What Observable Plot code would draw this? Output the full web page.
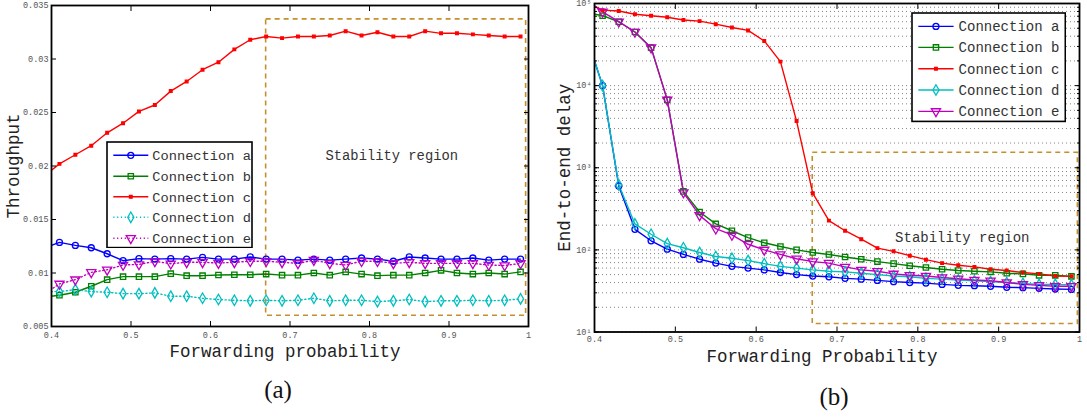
<!DOCTYPE html>
<html><head><meta charset="utf-8">
<script src="https://cdn.jsdelivr.net/npm/d3@7"></script>
<script src="https://cdn.jsdelivr.net/npm/@observablehq/plot@0.6"></script>
<style>
html,body{margin:0;padding:0;background:#fff;}
#wrap{position:relative;width:1087px;height:417px;overflow:hidden;background:#fff;}
#wrap > *{position:absolute;}
</style></head><body><div id="wrap"></div>
<script>
// ---- data ----
const prob = [0.39,0.41,0.43,0.45,0.47,0.49,0.51,0.53,0.55,0.57,0.59,0.61,0.63,0.65,0.67,0.69,0.71,0.73,0.75,0.77,0.79,0.81,0.83,0.85,0.87,0.89,0.91,0.93,0.95,0.97,0.99];

const thrA = [0.0123,0.01286,0.01258,0.01236,0.0118,0.01115,0.01134,0.0113,0.01134,0.0113,0.01146,0.0113,0.0113,0.0115,0.0113,0.0113,0.0112,0.0113,0.0112,0.0113,0.0114,0.0113,0.0111,0.0115,0.0114,0.0113,0.0113,0.0114,0.0112,0.0113,0.0113];
const thrB = [0.00774,0.00792,0.0082,0.00876,0.00938,0.00966,0.00966,0.00966,0.00994,0.00975,0.00975,0.00981,0.00984,0.00984,0.0099,0.0098,0.0098,0.0100,0.0098,0.0101,0.0099,0.00975,0.0098,0.0098,0.0100,0.01025,0.0100,0.0099,0.0100,0.0099,0.0101];
const thrC = [0.0190,0.0202,0.02105,0.0219,0.0231,0.0240,0.0251,0.0257,0.0270,0.0279,0.0290,0.0297,0.0309,0.0318,0.0321,0.03195,0.0321,0.0321,0.0322,0.0326,0.0322,0.0325,0.0321,0.0321,0.0326,0.0324,0.0324,0.0323,0.0322,0.0321,0.0321];
const thrD = [0.00826,0.00826,0.00845,0.00826,0.0082,0.00807,0.00807,0.00814,0.00783,0.00783,0.00764,0.00752,0.00745,0.0074,0.00745,0.0074,0.00745,0.00764,0.0074,0.00745,0.00745,0.00733,0.0074,0.00752,0.00733,0.0074,0.0074,0.00745,0.0074,0.00745,0.00758];
const thrE = [0.0080,0.00898,0.00938,0.01006,0.0103,0.01075,0.0108,0.01109,0.01087,0.0110,0.0110,0.01093,0.0110,0.0111,0.0111,0.0110,0.0109,0.0112,0.0109,0.01075,0.0111,0.0111,0.0109,0.0110,0.0109,0.0109,0.0109,0.0109,0.01075,0.0107,0.0109];

const delayA = [40000,10000,600,178,129,102,88,77,69,63,60,57,53,50,48,47,45,44,42.5,41,40,39.4,38,37,36.6,36,35,34.7,34,33.4,33];
const delayB = [78000,71000,60000,45000,29000,6700,515,289,207,171,141,122,110,100,93,88,82,77,72,68,64,61,58,56,55,54,52,51,49,49,47.6];
const delayC = [105000,83000,81000,74000,71000,68000,63000,61000,56000,51000,47000,35000,19600,3700,490,227,171,135,105,96,85,76,69,65,62,58,56,53,51,48,47.6];
const delayD = [40000,10000,620,207,155,119,106,93,83,79,74,68,63,60,57,55,54,52,50,48,47,45,44,43,42,41,40,39,38,38,37.5];
const delayE = [110000,79000,60000,45000,29000,6700,500,263,181,152,117,100,88,78,72,69,62,57,55,51,49,48,46,44.5,43,42,40,38,37,36,36];

const connections = ["Connection a","Connection b","Connection c","Connection d","Connection e"];
const xTicks = [0.4,0.5,0.6,0.7,0.8,0.9,1];
const yTicksA = [0.005,0.01,0.015,0.02,0.025,0.03,0.035];
const yTicksB = [10,100,1000,10000,100000];
const stabilityXA = [0.67,0.997], stabilityYA = [0.006,0.0337], stabilityLabelA = [0.828,0.021];
const stabilityXB = [0.67,0.998], stabilityYB = [12.5,1520], stabilityLabelB = [0.855,141];

// ---- styles ----
const mono = "'Liberation Mono','DejaVu Sans Mono',monospace";
const serif = "'Liberation Serif','DejaVu Serif',serif";
const colors = ["#0000ff","#008000","#ff0000","#00bfbf","#bf00bf"];
const symbols = ["circle","square","square","diamond","triangle"];
const rotates = [0,0,0,0,180];
const radii = [3,3,1.5,3.2,3.4];
const boxColor = "#c4902c";

function rows(vals){ return prob.map((x,i)=>({x, y: vals[i]})); }

function seriesMarks(allVals, dottedIdx){
  const m = [];
  allVals.forEach((vals,i)=>{
    const d = rows(vals);
    m.push(Plot.line(d,{x:"x",y:"y",stroke:colors[i],strokeWidth:1.4,
      strokeDasharray: dottedIdx.includes(i) ? "1.2,2.6" : null, clip:true}));
  });
  allVals.forEach((vals,i)=>{
    const d = rows(vals);
    m.push(Plot.dot(d,{x:"x",y:"y",symbol:symbols[i],r:radii[i],rotate:rotates[i],
      stroke:colors[i],fill: i===2 ? colors[i] : "none",strokeWidth:1.3,clip:true}));
  });
  return m;
}

const fmtX = d => d===1 ? "1" : d.toFixed(1);
const fmtYA = d => String(+d.toFixed(3));
const sup = {1:"\u00b9",2:"\u00b2",3:"\u00b3",4:"\u2074",5:"\u2075"};
const fmtYB = d => "10" + sup[Math.round(Math.log10(d))];
const minorB = [];
for (let e=1;e<5;e++) for (let k=1;k<10;k++) minorB.push(k*Math.pow(10,e));
minorB.push(100000);

const wrap = document.getElementById("wrap");
const labelStyle = {fontSize:17.5,fontFamily:mono,fill:"#222",textAnchor:"middle",lineAnchor:"middle"};

// ---- panel (a) ----
const plotA = Plot.plot({
  width:545, height:417,
  marginLeft:51, marginRight:17, marginTop:5, marginBottom:91,
  x:{domain:[0.4,1]}, y:{domain:[0.005,0.035]},
  style:{fontFamily:mono, background:"none", overflow:"visible"},
  marks:[
    Plot.rect([0],{x1:stabilityXA[0],x2:stabilityXA[1],y1:stabilityYA[0],y2:stabilityYA[1],
      fill:"none",stroke:boxColor,strokeWidth:1.6,strokeDasharray:"5,4"}),
    ...seriesMarks([thrA,thrB,thrC,thrD,thrE],[3,4]),
    Plot.text(["Stability region"],{x:stabilityLabelA[0],y:stabilityLabelA[1],fontSize:13.8,fontFamily:mono,fill:"#333"}),
    Plot.axisX(xTicks,{anchor:"bottom",tickSize:0,tickPadding:5,tickFormat:fmtX,fontSize:8.5,fill:"#555",label:null,fontFamily:mono}),
    Plot.axisX(xTicks,{anchor:"bottom",tickSize:-5,fill:"none",label:null}),
    Plot.axisX(xTicks,{anchor:"top",tickSize:-5,fill:"none",label:null}),
    Plot.axisY(yTicksA,{anchor:"left",tickSize:0,tickPadding:3,tickFormat:fmtYA,fontSize:8.5,fill:"#555",label:null,fontFamily:mono}),
    Plot.axisY(yTicksA,{anchor:"left",tickSize:-5,fill:"none",label:null}),
    Plot.axisY(yTicksA,{anchor:"right",tickSize:-5,fill:"none",label:null}),
    Plot.frame({stroke:"#000",strokeWidth:1.8}),
    Plot.text(["Forwarding probability"],{frameAnchor:"bottom",dy:25,dx:-5,...labelStyle}),
    Plot.text(["Throughput"],{frameAnchor:"left",dx:-38,rotate:-90,...labelStyle}),
    Plot.text(["(a)"],{frameAnchor:"bottom",dy:63,dx:-12,fontSize:25,fontFamily:serif,fill:"#111",textAnchor:"middle",lineAnchor:"middle"})
  ]
});
plotA.style.left="0px"; plotA.style.top="0px";
wrap.appendChild(plotA);

// ---- panel (b) ----
const plotB = Plot.plot({
  width:542, height:417,
  marginLeft:49, marginRight:8, marginTop:3, marginBottom:85.5,
  x:{domain:[0.4,1]}, y:{type:"log",domain:[10,100000]},
  style:{fontFamily:mono, background:"none", overflow:"visible"},
  marks:[
    Plot.ruleY(minorB,{stroke:"#777",strokeWidth:0.9,strokeDasharray:"1,3"}),
    Plot.rect([0],{x1:stabilityXB[0],x2:stabilityXB[1],y1:stabilityYB[0],y2:stabilityYB[1],
      fill:"none",stroke:boxColor,strokeWidth:1.6,strokeDasharray:"5,4"}),
    ...seriesMarks([delayA,delayB,delayC,delayD,delayE],[]),
    Plot.text(["Stability region"],{x:stabilityLabelB[0],y:stabilityLabelB[1],fontSize:14,fontFamily:mono,fill:"#333"}),
    Plot.axisX(xTicks,{anchor:"bottom",tickSize:0,tickPadding:4,tickFormat:fmtX,fontSize:8.5,fill:"#555",label:null,fontFamily:mono}),
    Plot.axisX(xTicks,{anchor:"bottom",tickSize:-5,fill:"none",label:null}),
    Plot.axisX(xTicks,{anchor:"top",tickSize:-5,fill:"none",label:null}),
    Plot.axisY(yTicksB,{anchor:"left",tickSize:0,tickPadding:3,tickFormat:fmtYB,fontSize:8.5,fill:"#555",label:null,fontFamily:mono}),
    Plot.axisY(minorB,{anchor:"left",tickSize:-3,fill:"none",label:null}),
    Plot.axisY(minorB,{anchor:"right",tickSize:-3,fill:"none",label:null}),
    Plot.axisY(yTicksB,{anchor:"left",tickSize:-5,fill:"none",label:null}),
    Plot.axisY(yTicksB,{anchor:"right",tickSize:-5,fill:"none",label:null}),
    Plot.frame({stroke:"#000",strokeWidth:1.8}),
    Plot.text(["Forwarding Probability"],{frameAnchor:"bottom",dy:24,dx:-15,...labelStyle}),
    Plot.text(["End-to-end delay"],{frameAnchor:"left",dx:-30,rotate:-90,...labelStyle}),
    Plot.text(["(b)"],{frameAnchor:"bottom",dy:65,dx:-3,fontSize:25,fontFamily:serif,fill:"#111",textAnchor:"middle",lineAnchor:"middle"})
  ]
});
plotB.style.left="545px"; plotB.style.top="0px";
wrap.appendChild(plotB);

// ---- legends ----
function legend(left, top, w, h, rowYs, lineX0, lineX1, textX, fontSize, dotted){
  const svg = d3.select(wrap).append("svg")
    .attr("width", w+2).attr("height", h+2)
    .style("left",(left-1)+"px").style("top",(top-1)+"px");
  const g = svg.append("g").attr("transform","translate(1,1)");
  g.append("rect").attr("width",w).attr("height",h).attr("fill","#fff").attr("stroke","#000").attr("stroke-width",1.6);
  const symMap = {circle:d3.symbolCircle, square:d3.symbolSquare, diamond:d3.symbolDiamond, triangle:d3.symbolTriangle};
  connections.forEach((name,i)=>{
    const y = rowYs[i];
    g.append("line").attr("x1",lineX0).attr("x2",lineX1).attr("y1",y).attr("y2",y)
      .attr("stroke",colors[i]).attr("stroke-width",1.4)
      .attr("stroke-dasharray", dotted.includes(i) ? "1.2,2.6" : null);
    const r = radii[i];
    g.append("path").attr("d", d3.symbol(symMap[symbols[i]], Math.PI*r*r)())
      .attr("transform",`translate(${(lineX0+lineX1)/2},${y}) rotate(${rotates[i]})`)
      .attr("fill", i===2 ? colors[i] : "none").attr("stroke",colors[i]).attr("stroke-width",1.3);
    g.append("text").attr("x",textX).attr("y",y).attr("dy","0.35em")
      .attr("font-family",mono).attr("font-size",fontSize).attr("fill","#333").text(name);
  });
}
legend(106.7,141.7,145,105.6,[13.3,34.3,54.8,75.3,96.3],6.3,41.3,45.3,13.7,[3,4]);
legend(911.7,13.3,153.3,108.4,[13.4,34.4,55.7,77,98.4],6.3,41.6,46.6,14,[]);
</script></body></html>
